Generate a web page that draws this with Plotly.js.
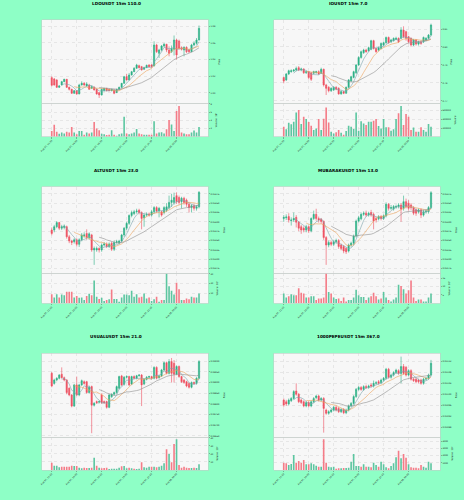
<!DOCTYPE html>
<html><head><meta charset="utf-8">
<script src="https://cdn.plot.ly/plotly-3.0.1.min.js"></script>
<style>html,body{margin:0;padding:0;background:#8effc6;}#chart{width:464px;height:500px;}</style>
</head><body><div id="chart"></div>
<script>
// ---------- data ----------
const tickPositions = [0, 10, 20, 30, 40, 50];
const tickLabels = ['Aug 07, 11:30','Aug 07, 14:00','Aug 07, 16:30','Aug 07, 19:00','Aug 07, 21:30','Aug 08, 00:00'];
const titles = ['LDOUSDT 15m 110.0','IOUSDT 15m 7.0','ALTUSDT 15m 23.0','MUBARAKUSDT 15m 13.0','USUALUSDT 15m 21.0','1000PEPEUSDT 15m 367.0'];

const ldoOpen  = [1.0184,1.0168,1.0156,1.0068,1.0096,1.0136,1.0164,1.0068,1.0044,0.9996,1.0028,0.9988,1.0096,1.0116,1.0084,1.0096,1.0056,1.0068,1.0044,1.0004,0.9976,1.0028,1.0056,1.0044,1.0028,1.0036,1.0004,1.0044,1.0068,1.0116,1.0196,1.0156,1.0216,1.0256,1.0296,1.0328,1.0316,1.0284,1.0304,1.0336,1.0336,1.0324,1.0576,1.0476,1.0516,1.0564,1.0584,1.0516,1.0496,1.0524,1.0636,1.0624,1.0544,1.0516,1.0548,1.0516,1.0496,1.0576,1.0596,1.0636];
const ldoHigh  = [1.0200,1.0180,1.0165,1.0095,1.0145,1.0170,1.0168,1.0075,1.0050,1.0035,1.0035,1.0110,1.0140,1.0130,1.0130,1.0110,1.0090,1.0080,1.0050,1.0010,1.0050,1.0060,1.0060,1.0050,1.0050,1.0045,1.0050,1.0075,1.0120,1.0205,1.0230,1.0240,1.0265,1.0310,1.0350,1.0340,1.0325,1.0315,1.0340,1.0345,1.0345,1.0620,1.0590,1.0530,1.0575,1.0600,1.0590,1.0560,1.0570,1.0690,1.0650,1.0640,1.0560,1.0560,1.0560,1.0530,1.0590,1.0620,1.0660,1.0810];
const ldoLow   = [1.0080,1.0088,1.0060,1.0060,1.0090,1.0130,1.0060,1.0030,0.9990,0.9990,0.9980,0.9985,1.0090,1.0085,1.0080,1.0040,1.0050,1.0030,0.9980,0.9940,0.9970,1.0020,1.0020,1.0020,1.0020,0.9985,1.0000,1.0040,1.0060,1.0110,1.0150,1.0150,1.0210,1.0250,1.0290,1.0295,1.0270,1.0280,1.0300,1.0310,1.0300,1.0320,1.0480,1.0420,1.0500,1.0550,1.0490,1.0440,1.0480,1.0450,1.0400,1.0520,1.0510,1.0440,1.0480,1.0480,1.0490,1.0560,1.0580,1.0630];
const ldoClose = [1.0092,1.0096,1.0068,1.0084,1.0136,1.0164,1.0068,1.0044,0.9996,1.0028,0.9988,1.0096,1.0116,1.0096,1.0108,1.0044,1.0076,1.0036,0.9988,0.9976,1.0044,1.0056,1.0028,1.0028,1.0044,0.9996,1.0044,1.0068,1.0116,1.0196,1.0156,1.0216,1.0256,1.0296,1.0336,1.0304,1.0276,1.0304,1.0332,1.0316,1.0316,1.0576,1.0496,1.0516,1.0564,1.0584,1.0516,1.0476,1.0536,1.0636,1.0456,1.0536,1.0524,1.0548,1.0496,1.0496,1.0576,1.0596,1.0636,1.0776];
const ldoVolume = [140000,290000,120000,70000,100000,80000,120000,100000,240000,100000,60000,140000,140000,50000,100000,80000,100000,360000,200000,160000,70000,60000,40000,50000,160000,50000,25000,60000,80000,490000,80000,60000,80000,100000,190000,80000,60000,50000,50000,50000,50000,380000,80000,100000,110000,80000,180000,410000,300000,140000,630000,750000,100000,80000,60000,60000,100000,150000,100000,240000];

const ioOpen  = [0.7830,0.7817,0.7850,0.7863,0.7867,0.7872,0.7885,0.7872,0.7878,0.7857,0.7863,0.7857,0.7854,0.7857,0.7863,0.7854,0.7876,0.7789,0.7776,0.7757,0.7761,0.7776,0.7770,0.7739,0.7752,0.7743,0.7776,0.7811,0.7831,0.7857,0.7900,0.7942,0.7968,0.7983,0.7979,0.7987,0.8035,0.7992,0.7983,0.7992,0.8011,0.8024,0.8053,0.8029,0.8035,0.8042,0.8048,0.8048,0.8094,0.8085,0.8057,0.8048,0.8011,0.8039,0.8016,0.8029,0.8029,0.8039,0.8048,0.8066];
const ioHigh  = [0.7835,0.7855,0.7874,0.7876,0.7878,0.7891,0.7894,0.7885,0.7881,0.7868,0.7866,0.7860,0.7868,0.7868,0.7870,0.7885,0.7880,0.7795,0.7782,0.7776,0.7782,0.7782,0.7776,0.7760,0.7757,0.7780,0.7822,0.7840,0.7868,0.7905,0.7948,0.7980,0.7990,0.7990,0.8002,0.8040,0.8040,0.7996,0.8002,0.8025,0.8030,0.8058,0.8058,0.8045,0.8053,0.8057,0.8053,0.8110,0.8115,0.8090,0.8062,0.8053,0.8045,0.8044,0.8035,0.8035,0.8058,0.8055,0.8072,0.8130];
const ioLow   = [0.7798,0.7811,0.7844,0.7857,0.7860,0.7865,0.7866,0.7865,0.7850,0.7850,0.7820,0.7811,0.7848,0.7852,0.7845,0.7850,0.7780,0.7733,0.7748,0.7750,0.7755,0.7760,0.7735,0.7735,0.7738,0.7740,0.7770,0.7805,0.7826,0.7850,0.7895,0.7935,0.7962,0.7968,0.7974,0.7982,0.7986,0.7968,0.7976,0.7987,0.8005,0.8018,0.8018,0.8022,0.8030,0.8038,0.8022,0.8042,0.8050,0.8035,0.8020,0.8002,0.8005,0.8008,0.8008,0.8012,0.8022,0.8032,0.8042,0.8060];
const ioClose = [0.7811,0.7850,0.7868,0.7868,0.7872,0.7881,0.7872,0.7878,0.7857,0.7863,0.7830,0.7820,0.7863,0.7863,0.7850,0.7876,0.7789,0.7770,0.7757,0.7770,0.7776,0.7765,0.7739,0.7752,0.7743,0.7776,0.7817,0.7835,0.7863,0.7900,0.7942,0.7974,0.7983,0.7974,0.7996,0.8035,0.7992,0.7974,0.7996,0.8020,0.8024,0.8053,0.8024,0.8039,0.8048,0.8048,0.8029,0.8094,0.8057,0.8048,0.8029,0.8011,0.8039,0.8016,0.8029,0.8020,0.8053,0.8048,0.8066,0.8122];
const ioVolume = [230000,170000,320000,285000,345000,560000,615000,290000,460000,410000,340000,255000,155000,190000,410000,155000,415000,675000,330000,115000,75000,100000,155000,90000,45000,130000,255000,230000,175000,560000,140000,355000,305000,270000,345000,345000,370000,410000,245000,190000,410000,215000,215000,140000,170000,410000,540000,710000,270000,525000,460000,155000,210000,115000,115000,215000,155000,115000,290000,230000];

const altOpen  = [0.03378,0.03378,0.03387,0.03398,0.03383,0.03385,0.03387,0.03360,0.03349,0.03347,0.03352,0.03340,0.03352,0.03363,0.03369,0.03358,0.03365,0.03325,0.03325,0.03329,0.03325,0.03338,0.03340,0.03334,0.03343,0.03327,0.03345,0.03344,0.03349,0.03365,0.03383,0.03396,0.03417,0.03422,0.03427,0.03431,0.03425,0.03411,0.03418,0.03421,0.03418,0.03427,0.03438,0.03429,0.03427,0.03425,0.03431,0.03438,0.03452,0.03452,0.03470,0.03465,0.03454,0.03463,0.03458,0.03447,0.03438,0.03443,0.03436,0.03440];
const altHigh  = [0.03385,0.03392,0.03402,0.03400,0.03392,0.03393,0.03390,0.03365,0.03352,0.03356,0.03356,0.03356,0.03370,0.03372,0.03380,0.03372,0.03368,0.03334,0.03334,0.03332,0.03342,0.03346,0.03345,0.03345,0.03347,0.03350,0.03352,0.03352,0.03368,0.03386,0.03400,0.03420,0.03430,0.03432,0.03435,0.03435,0.03428,0.03422,0.03425,0.03425,0.03432,0.03442,0.03442,0.03440,0.03430,0.03442,0.03450,0.03470,0.03475,0.03478,0.03479,0.03470,0.03467,0.03467,0.03462,0.03452,0.03447,0.03448,0.03445,0.03482];
const altLow   = [0.03364,0.03372,0.03383,0.03378,0.03378,0.03380,0.03355,0.03343,0.03338,0.03342,0.03334,0.03333,0.03348,0.03358,0.03352,0.03352,0.03320,0.03285,0.03320,0.03318,0.03320,0.03334,0.03330,0.03330,0.03322,0.03322,0.03342,0.03340,0.03345,0.03360,0.03378,0.03392,0.03412,0.03418,0.03422,0.03420,0.03380,0.03387,0.03414,0.03414,0.03414,0.03422,0.03424,0.03412,0.03414,0.03420,0.03426,0.03434,0.03440,0.03446,0.03448,0.03446,0.03436,0.03446,0.03440,0.03425,0.03425,0.03430,0.03430,0.03436];
const altClose = [0.03369,0.03387,0.03398,0.03383,0.03387,0.03389,0.03360,0.03349,0.03345,0.03352,0.03340,0.03352,0.03365,0.03365,0.03358,0.03368,0.03325,0.03329,0.03329,0.03325,0.03338,0.03341,0.03334,0.03341,0.03327,0.03345,0.03347,0.03349,0.03365,0.03383,0.03396,0.03417,0.03425,0.03427,0.03429,0.03425,0.03409,0.03418,0.03420,0.03418,0.03427,0.03438,0.03429,0.03436,0.03418,0.03438,0.03440,0.03452,0.03458,0.03465,0.03454,0.03452,0.03463,0.03452,0.03447,0.03438,0.03443,0.03436,0.03440,0.03479];
const altVolume = [930000,600000,930000,600000,900000,830000,1170000,1170000,1170000,600000,730000,570000,600000,330000,730000,970000,830000,2330000,670000,430000,570000,230000,330000,400000,1400000,430000,430000,170000,600000,900000,900000,830000,1270000,670000,930000,600000,670000,1000000,500000,600000,230000,400000,670000,170000,330000,330000,3000000,1730000,1270000,900000,2100000,1430000,330000,330000,500000,400000,670000,600000,600000,1000000];

const mubOpen  = [0.03309,0.03311,0.03314,0.03303,0.03305,0.03312,0.03299,0.03287,0.03283,0.03278,0.03287,0.03276,0.03309,0.03320,0.03309,0.03307,0.03301,0.03258,0.03238,0.03245,0.03240,0.03247,0.03250,0.03238,0.03234,0.03229,0.03222,0.03238,0.03243,0.03262,0.03302,0.03308,0.03320,0.03323,0.03318,0.03325,0.03320,0.03309,0.03308,0.03314,0.03309,0.03316,0.03347,0.03336,0.03334,0.03339,0.03341,0.03345,0.03336,0.03354,0.03350,0.03345,0.03338,0.03332,0.03327,0.03332,0.03318,0.03327,0.03327,0.03338];
const mubHigh  = [0.03318,0.03320,0.03323,0.03312,0.03325,0.03318,0.03302,0.03292,0.03288,0.03292,0.03290,0.03312,0.03330,0.03335,0.03314,0.03310,0.03304,0.03262,0.03250,0.03250,0.03252,0.03255,0.03254,0.03242,0.03238,0.03232,0.03242,0.03247,0.03266,0.03306,0.03316,0.03325,0.03328,0.03330,0.03327,0.03332,0.03325,0.03314,0.03318,0.03318,0.03320,0.03352,0.03350,0.03345,0.03345,0.03346,0.03350,0.03350,0.03370,0.03362,0.03358,0.03350,0.03342,0.03336,0.03336,0.03336,0.03332,0.03333,0.03342,0.03382];
const mubLow   = [0.03300,0.03305,0.03298,0.03290,0.03300,0.03285,0.03275,0.03268,0.03272,0.03272,0.03270,0.03272,0.03305,0.03303,0.03298,0.03295,0.03252,0.03185,0.03232,0.03235,0.03235,0.03242,0.03228,0.03224,0.03216,0.03214,0.03218,0.03233,0.03238,0.03258,0.03298,0.03304,0.03316,0.03314,0.03314,0.03314,0.03280,0.03298,0.03304,0.03304,0.03305,0.03312,0.03330,0.03332,0.03330,0.03335,0.03336,0.03300,0.03330,0.03336,0.03330,0.03332,0.03318,0.03316,0.03322,0.03310,0.03314,0.03322,0.03322,0.03334];
const mubClose = [0.03312,0.03313,0.03305,0.03305,0.03309,0.03299,0.03283,0.03278,0.03278,0.03287,0.03276,0.03309,0.03320,0.03309,0.03305,0.03301,0.03258,0.03238,0.03245,0.03240,0.03247,0.03250,0.03234,0.03229,0.03222,0.03220,0.03238,0.03243,0.03262,0.03302,0.03311,0.03320,0.03323,0.03318,0.03323,0.03318,0.03302,0.03305,0.03314,0.03309,0.03316,0.03347,0.03336,0.03338,0.03341,0.03341,0.03345,0.03334,0.03354,0.03341,0.03336,0.03338,0.03323,0.03323,0.03332,0.03318,0.03327,0.03329,0.03338,0.03378];
const mubVolume = [580000,350000,420000,540000,480000,480000,900000,620000,580000,350000,350000,420000,420000,190000,290000,290000,350000,1770000,670000,580000,350000,250000,290000,130000,350000,100000,190000,190000,350000,810000,480000,380000,380000,190000,350000,420000,630000,420000,230000,290000,670000,350000,190000,100000,230000,350000,1100000,1020000,830000,580000,770000,1350000,350000,130000,230000,230000,100000,100000,350000,580000];

const usualOpen  = [0.08943,0.08896,0.08912,0.08920,0.08939,0.08923,0.08912,0.08873,0.08842,0.08790,0.08889,0.08842,0.08889,0.08904,0.08904,0.08853,0.08881,0.08794,0.08811,0.08808,0.08842,0.08811,0.08811,0.08784,0.08834,0.08845,0.08853,0.08873,0.08931,0.08892,0.08925,0.08928,0.08893,0.08928,0.08920,0.08932,0.08935,0.08893,0.08915,0.08925,0.08928,0.08920,0.08971,0.08923,0.08931,0.08959,0.08993,0.08943,0.08998,0.08990,0.08939,0.08975,0.08928,0.08912,0.08904,0.08896,0.08878,0.08900,0.08896,0.08920];
const usualHigh  = [0.08950,0.08918,0.08925,0.08940,0.08971,0.08928,0.08916,0.08878,0.08846,0.08894,0.08928,0.08894,0.08914,0.08910,0.08908,0.08884,0.08886,0.08808,0.08816,0.08816,0.08850,0.08816,0.08815,0.08846,0.08850,0.08858,0.08886,0.08932,0.08936,0.08930,0.08934,0.08932,0.08932,0.08934,0.08936,0.08940,0.08940,0.08920,0.08930,0.08932,0.08932,0.08976,0.08976,0.08936,0.08964,0.08998,0.08998,0.09010,0.09015,0.09005,0.08980,0.08980,0.08932,0.08916,0.08908,0.08900,0.08905,0.08905,0.08925,0.09005];
const usualLow   = [0.08878,0.08890,0.08906,0.08915,0.08918,0.08906,0.08845,0.08836,0.08784,0.08786,0.08836,0.08836,0.08884,0.08890,0.08848,0.08848,0.08663,0.08788,0.08800,0.08802,0.08800,0.08800,0.08778,0.08780,0.08828,0.08840,0.08848,0.08868,0.08884,0.08886,0.08920,0.08884,0.08888,0.08915,0.08915,0.08928,0.08790,0.08888,0.08910,0.08920,0.08915,0.08915,0.08915,0.08918,0.08926,0.08954,0.08938,0.08938,0.08900,0.08900,0.08934,0.08922,0.08898,0.08894,0.08878,0.08872,0.08873,0.08890,0.08890,0.08915];
const usualClose = [0.08884,0.08912,0.08920,0.08935,0.08923,0.08912,0.08853,0.08842,0.08790,0.08889,0.08842,0.08889,0.08909,0.08896,0.08853,0.08878,0.08794,0.08803,0.08806,0.08811,0.08806,0.08806,0.08784,0.08842,0.08845,0.08853,0.08881,0.08928,0.08889,0.08925,0.08928,0.08889,0.08928,0.08920,0.08932,0.08935,0.08889,0.08915,0.08925,0.08928,0.08920,0.08971,0.08920,0.08931,0.08959,0.08993,0.08943,0.08998,0.08943,0.08939,0.08975,0.08928,0.08904,0.08900,0.08884,0.08878,0.08900,0.08896,0.08920,0.08998];
const usualVolume = [920000,540000,540000,330000,420000,420000,420000,420000,540000,500000,500000,290000,210000,290000,250000,250000,290000,1540000,540000,290000,210000,250000,290000,130000,170000,170000,170000,290000,460000,500000,210000,290000,210000,170000,130000,170000,960000,330000,290000,420000,420000,420000,330000,420000,540000,830000,2580000,2000000,960000,3250000,3830000,630000,290000,420000,290000,250000,250000,290000,250000,710000];

const pepeOpen  = [0.010979,0.010973,0.010965,0.010977,0.010985,0.011012,0.011000,0.010979,0.010973,0.010958,0.010970,0.010958,0.010973,0.010988,0.010994,0.010979,0.010985,0.010943,0.010931,0.010937,0.010943,0.010953,0.010949,0.010937,0.010945,0.010933,0.010943,0.010958,0.010967,0.010992,0.011018,0.011025,0.011018,0.011028,0.011025,0.011034,0.011030,0.011040,0.011046,0.011042,0.011052,0.011058,0.011091,0.011062,0.011070,0.011079,0.011086,0.011076,0.011101,0.011098,0.011070,0.011086,0.011055,0.011055,0.011052,0.011052,0.011040,0.011055,0.011058,0.011070];
const pepeHigh  = [0.010985,0.010980,0.010985,0.010990,0.011015,0.011040,0.011005,0.010985,0.010978,0.010975,0.010975,0.010978,0.010990,0.010998,0.010998,0.010990,0.010990,0.010948,0.010942,0.010948,0.010958,0.010958,0.010954,0.010950,0.010950,0.010948,0.010963,0.010972,0.010997,0.011023,0.011030,0.011030,0.011033,0.011035,0.011035,0.011040,0.011050,0.011048,0.011052,0.011057,0.011063,0.011096,0.011096,0.011075,0.011084,0.011093,0.011091,0.011137,0.011110,0.011103,0.011091,0.011091,0.011060,0.011060,0.011057,0.011057,0.011060,0.011063,0.011075,0.011125];
const pepeLow   = [0.010955,0.010958,0.010960,0.010972,0.010980,0.010995,0.010968,0.010965,0.010953,0.010953,0.010953,0.010953,0.010968,0.010983,0.010974,0.010974,0.010861,0.010926,0.010926,0.010932,0.010938,0.010938,0.010932,0.010932,0.010928,0.010928,0.010938,0.010953,0.010962,0.010987,0.011013,0.011013,0.011013,0.011020,0.011020,0.011025,0.011025,0.011035,0.011035,0.011037,0.011047,0.011053,0.011057,0.011057,0.011065,0.011074,0.011071,0.011040,0.011071,0.011065,0.011065,0.011050,0.011045,0.011040,0.011040,0.011035,0.011035,0.011050,0.011053,0.011065];
const pepeClose = [0.010961,0.010965,0.010979,0.010985,0.011010,0.011000,0.010973,0.010970,0.010958,0.010970,0.010958,0.010973,0.010985,0.010994,0.010979,0.010985,0.010949,0.010931,0.010937,0.010943,0.010953,0.010943,0.010937,0.010945,0.010933,0.010943,0.010958,0.010967,0.010992,0.011018,0.011025,0.011018,0.011028,0.011025,0.011030,0.011030,0.011040,0.011042,0.011040,0.011052,0.011058,0.011091,0.011062,0.011070,0.011079,0.011088,0.011076,0.011101,0.011076,0.011070,0.011086,0.011055,0.011050,0.011046,0.011046,0.011040,0.011055,0.011058,0.011070,0.011113];
const pepeVolume = [101000000,92000000,69000000,83000000,207000000,101000000,124000000,101000000,138000000,78000000,78000000,92000000,78000000,60000000,46000000,46000000,424000000,101000000,46000000,37000000,46000000,18000000,23000000,23000000,28000000,28000000,32000000,115000000,221000000,55000000,55000000,46000000,78000000,46000000,46000000,37000000,101000000,69000000,46000000,115000000,78000000,37000000,23000000,55000000,92000000,175000000,267000000,161000000,221000000,170000000,78000000,37000000,32000000,32000000,23000000,69000000,46000000,32000000,115000000,92000000];

const maPeriods = [5, 10, 20];

// ---------- chart ----------
const W = 464, H = 500;
const UP = '#2eb086', DOWN = '#ef4f60';
const VOL_UP = '#5cc6a0', VOL_DOWN = '#f47c88';
const MA_COLORS = ['#7ea4ad', '#eda35a', '#8f8f8f'];
const FONT = 'DejaVu Sans, sans-serif';

function sma(arr, n) {
  return arr.map((_, i) => {
    if (i < n - 1) return null;
    let s = 0; for (let k = i - n + 1; k <= i; k++) s += arr[k];
    return s / n;
  });
}

const panels = [
  {o: ldoOpen, h: ldoHigh, l: ldoLow, c: ldoClose, v: ldoVolume, pr: [0.9876, 1.0876], pt: [1.00, 1.02, 1.04, 1.06, 1.08], pf: '.2f', vr: [0, 816000], vt: [2, 4, 6, 8], vs: 1e5, vtitle: 'Volume  10⁵'},
  {o: ioOpen, h: ioHigh, l: ioLow, c: ioClose, v: ioVolume, pr: [0.7687, 0.8150], pt: [0.77, 0.78, 0.79, 0.80, 0.81], pf: '.2f', vr: [0, 770000], vt: [200000, 400000, 600000], vs: 1, vtitle: 'Volume'},
  {o: altOpen, h: altHigh, l: altLow, c: altClose, v: altVolume, pr: [0.032625, 0.034939], pt: [0.03275,0.03300,0.03325,0.03350,0.03375,0.03400,0.03425,0.03450,0.03475], pf: '.5f', vr: [0, 3050000], vt: [10, 20, 30], vs: 1e5, vtitle: 'Volume  10⁵'},
  {o: mubOpen, h: mubHigh, l: mubLow, c: mubClose, v: mubVolume, pr: [0.031625, 0.033939], pt: [0.03175,0.03200,0.03225,0.03250,0.03275,0.03300,0.03325,0.03350,0.03375], pf: '.5f', vr: [0, 1780000], vt: [5, 10, 15], vs: 1e5, vtitle: 'Volume  10⁵'},
  {o: usualOpen, h: usualHigh, l: usualLow, c: usualClose, v: usualVolume, pr: [0.086438, 0.090369], pt: [0.0865,0.0870,0.0875,0.0880,0.0885,0.0890,0.0895,0.0900], pf: '.5f', vr: [0, 4080000], vt: [10, 20, 30, 40], vs: 1e5, vtitle: 'Volume  10⁵'},
  {o: pepeOpen, h: pepeHigh, l: pepeLow, c: pepeClose, v: pepeVolume, pr: [0.010844, 0.011149], pt: [0.01088,0.01092,0.01096,0.01100,0.01104,0.01108,0.01112], pf: '.5f', vr: [0, 452000000], vt: [1000, 2000, 3000, 4000], vs: 1e5, vtitle: 'Volume  10⁵'}
];

const colsPx = [[42, 208], [274, 440]];
const colCenter = [116, 348];
const rowsPx = [
  {t: 3.5, p: [20, 103.3], v: [103.3, 136.7]},
  {t: 170, p: [186.7, 273.3], v: [273.3, 303.3]},
  {t: 336, p: [353.3, 437.3], v: [437.3, 470]}
];
const yd = (a) => [1 - a[1] / H, 1 - a[0] / H];

const data = [];
const layout = {
  width: W, height: H,
  margin: {l: 0, r: 0, t: 0, b: 0, pad: 0},
  paper_bgcolor: '#8effc6', plot_bgcolor: '#f7f7f7',
  showlegend: false, barmode: 'overlay', boxgap: 0.3,
  font: {family: FONT, size: 2.3, color: '#222'},
  annotations: []
};

const tickFont = {family: FONT, size: 2.2, color: '#222'};

panels.forEach((P, k) => {
  const r = Math.floor(k / 2), cI = k % 2;
  const xa = 2 * k + 1, xb = 2 * k + 2;
  const xn = (n) => n === 1 ? 'x' : 'x' + n;
  const yn = (n) => n === 1 ? 'y' : 'y' + n;
  const dom = [colsPx[cI][0] / W, colsPx[cI][1] / W];
  const x = P.c.map((_, i) => i);

  data.push({
    type: 'candlestick', x: x, open: P.o, high: P.h, low: P.l, close: P.c,
    xaxis: xn(xa), yaxis: yn(xa), whiskerwidth: 0,
    increasing: {line: {color: UP, width: 0.6}, fillcolor: UP},
    decreasing: {line: {color: DOWN, width: 0.6}, fillcolor: DOWN},
    hoverinfo: 'skip'
  });
  maPeriods.forEach((n, j) => {
    data.push({type: 'scatter', mode: 'lines', x: x, y: sma(P.c, n),
      xaxis: xn(xa), yaxis: yn(xa), line: {color: MA_COLORS[j], width: 0.6},
      hoverinfo: 'skip'});
  });
  data.push({
    type: 'bar', x: x, y: P.v, xaxis: xn(xb), yaxis: yn(xb), width: 0.65,
    marker: {color: P.c.map((cv, i) => cv >= P.o[i] ? VOL_UP : VOL_DOWN), line: {width: 0}},
    hoverinfo: 'skip'
  });

  const gridX = {tickmode: 'array', tickvals: tickPositions, showgrid: true,
    gridcolor: '#d6d6d6', gridwidth: 0.5, griddash: 'dot', zeroline: false,
    range: [-3.9, 62.6], showline: true, linecolor: '#c8c8c8', linewidth: 0.5, mirror: true};

  layout['xaxis' + (xa === 1 ? '' : xa)] = Object.assign({}, gridX, {
    domain: dom, anchor: yn(xa), matches: xn(xb), showticklabels: false, ticks: '',
    rangeslider: {visible: false}
  });
  layout['xaxis' + xb] = Object.assign({}, gridX, {
    domain: dom, anchor: yn(xb), ticktext: tickLabels, tickangle: -45,
    ticks: 'outside', ticklen: 1.5, tickwidth: 0.4, tickcolor: '#444', tickfont: tickFont
  });
  layout['yaxis' + (xa === 1 ? '' : xa)] = {
    domain: yd(rowsPx[r].p), anchor: xn(xa), side: 'right', range: P.pr,
    tickmode: 'array', tickvals: P.pt, tickformat: P.pf, tickfont: tickFont,
    ticks: 'outside', ticklen: 1.5, tickwidth: 0.4, tickcolor: '#444',
    showgrid: true, gridcolor: '#d6d6d6', gridwidth: 0.5, griddash: 'dot', zeroline: false,
    showline: true, linecolor: '#c8c8c8', linewidth: 0.5, mirror: true,
    title: {text: 'Price', font: {family: FONT, size: 2.4, color: '#222'}, standoff: 3}
  };
  layout['yaxis' + xb] = {
    domain: yd(rowsPx[r].v), anchor: xn(xb), side: 'right', range: P.vr,
    tickmode: 'array', tickvals: P.vt.map(t => t * P.vs), ticktext: P.vt.map(String), tickfont: tickFont,
    ticks: 'outside', ticklen: 1.5, tickwidth: 0.4, tickcolor: '#444',
    showgrid: true, gridcolor: '#d6d6d6', gridwidth: 0.5, griddash: 'dot', zeroline: false,
    showline: true, linecolor: '#c8c8c8', linewidth: 0.5, mirror: true,
    title: {text: P.vtitle, font: {family: FONT, size: 2.4, color: '#222'}, standoff: 3}
  };

  layout.annotations.push({
    text: '<b>' + titles[k] + '</b>', xref: 'paper', yref: 'paper',
    x: colCenter[cI] / W, y: 1 - rowsPx[r].t / H, xanchor: 'center', yanchor: 'middle',
    showarrow: false, font: {family: FONT, size: 4.2, color: '#000'}
  });
});

Plotly.newPlot('chart', data, layout, {staticPlot: true, displayModeBar: false});
</script>
</body></html>
